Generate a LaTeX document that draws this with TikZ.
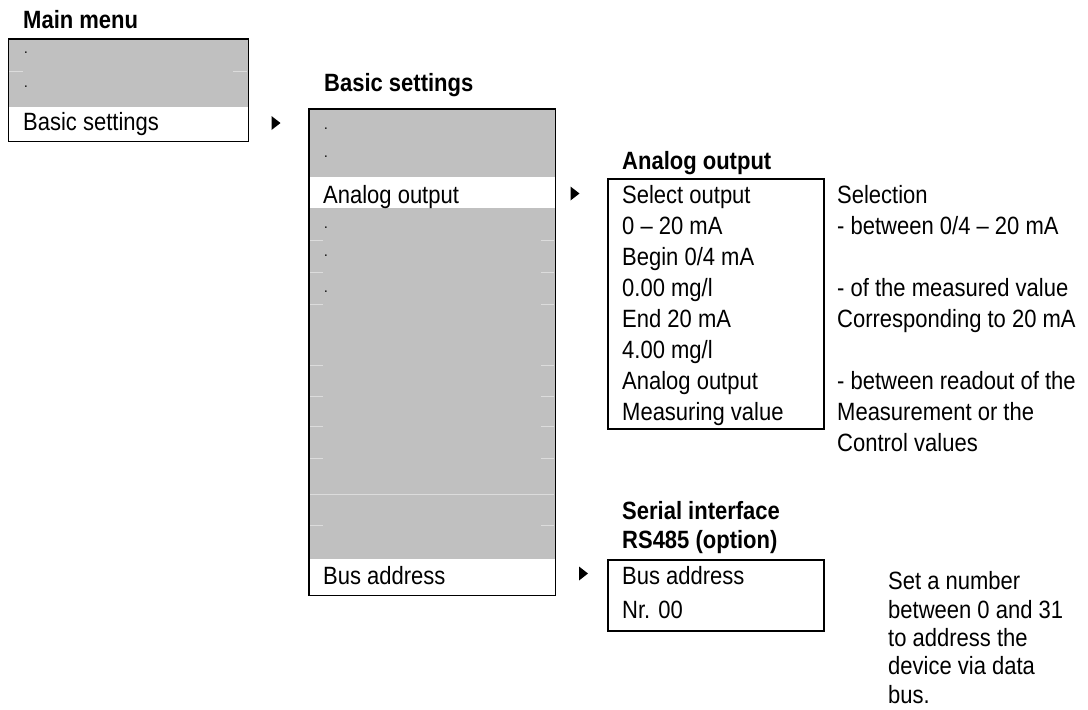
\documentclass[tikz,border=0pt]{standalone}
\usepackage{fontspec}
\setmainfont{Liberation Sans}[FakeStretch=0.88]
\usetikzlibrary{shapes.geometric}
\definecolor{menugray}{HTML}{C0C0C0}
\definecolor{tickgray}{HTML}{DCDCDC}
\tikzset{
  txt/.style={anchor=base west, inner sep=0pt, font=\fontsize{25}{29}\selectfont},
  ttl/.style={txt, font=\fontsize{25}{29}\selectfont\bfseries},
  dotmark/.style={anchor=base west, inner sep=0pt, font=\fontsize{15}{16}\selectfont},
  frame/.style={draw=black, line width=1.8pt, fill=none, inner sep=0pt, anchor=north west},
  grayfill/.style={fill=menugray},
  tick/.style={draw=tickgray, line width=1pt},
  arrowfill/.style={fill=black}
}
\newcommand{\arrowtri}[1]{\fill[arrowfill] (#1) ++(-4.5,-7) -- ++(9,7) -- ++(-9,7) -- cycle;}
\begin{document}
\begin{tikzpicture}[x=1pt,y=-1pt]
\useasboundingbox (0,0) rectangle (1088,710);

% ---------- Main menu ----------
\node[ttl] (mmtitle) at (23,28.5) {Main menu};
\fill[grayfill] (7.5,38) rectangle (247.5,107);
\draw[tick] (8.5,71.7) -- (23,71.7) (233,71.7) -- (246.5,71.7);
\node[dotmark] (mmd1) at (24,53) {.};
\node[dotmark] (mmd2) at (24,87) {.};
\node[txt] (mmbasic) at (23,130) {Basic settings};
\node[frame, minimum width=240pt, minimum height=102.5pt] (mmbox) at (7.5,38) {};
\coordinate (ar1) at (276,123);
\arrowtri{ar1}

% ---------- Basic settings ----------
\node[ttl] (bstitle) at (324,91) {Basic settings};
\fill[grayfill] (308,108.3) rectangle (554.5,594.5);
\fill[white] (308,176.7) rectangle (554.5,208.3);
\fill[white] (308,559) rectangle (554.5,594.5);
\foreach \yy in {240,272.7,304,365,396,426,458,525}{
  \draw[tick] (309,\yy) -- (323,\yy) (541,\yy) -- (553.5,\yy);
}
\draw[tick] (309,494) -- (553.5,494);
\node[dotmark] (bsd1) at (324,129) {.};
\node[dotmark] (bsd2) at (324,157) {.};
\node[txt] (bsanalog) at (323,203) {Analog output};
\node[dotmark] (bsd3) at (324,228) {.};
\node[dotmark] (bsd4) at (324,256) {.};
\node[dotmark] (bsd5) at (324,292) {.};
\node[txt] (bsbus) at (323,584) {Bus address};
\node[frame, minimum width=246.5pt, minimum height=486.2pt] (bsbox) at (308,108.3) {};
\coordinate (ar2) at (575,193.5);
\arrowtri{ar2}
\coordinate (ar3) at (583.5,573.5);
\arrowtri{ar3}

% ---------- Analog output ----------
\node[ttl] (aotitle) at (622,169) {Analog output};
\node[frame, minimum width=216pt, minimum height=250.6pt] (aobox) at (607.3,177.7) {};
\node[txt] (ao1) at (622,203) {Select output};
\node[txt] (ao2) at (622,234) {0 – 20 mA};
\node[txt] (ao3) at (622,265) {Begin 0/4 mA};
\node[txt] (ao4) at (622,296) {0.00 mg/l};
\node[txt] (ao5) at (622,327) {End 20 mA};
\node[txt] (ao6) at (622,358) {4.00 mg/l};
\node[txt] (ao7) at (622,389) {Analog output};
\node[txt] (ao8) at (622,420) {Measuring value};

\node[txt] (ad1) at (837,203) {Selection};
\node[txt] (ad2) at (837,234) {- between 0/4 – 20 mA};
\node[txt] (ad3) at (837,296) {- of the measured value};
\node[txt] (ad4) at (837,327) {Corresponding to 20 mA};
\node[txt] (ad5) at (837,389) {- between readout of the};
\node[txt] (ad6) at (837,420) {Measurement or the};
\node[txt] (ad7) at (837,451) {Control values};

% ---------- Serial interface ----------
\node[ttl] (sititle1) at (622,519.5) {Serial interface};
\node[ttl] (sititle2) at (622,548) {RS485 (option)};
\node[frame, minimum width=216pt, minimum height=70.7pt] (sibox) at (607.3,559.3) {};
\node[txt] (si1) at (622,584.5) {Bus address};
\node[txt] (si2) at (622,618) {Nr. 00};

\node[txt] (sd1) at (888,589) {Set a number};
\node[txt] (sd2) at (888,618) {between 0 and 31};
\node[txt] (sd3) at (888,646) {to address the};
\node[txt] (sd4) at (888,674.5) {device via data};
\node[txt] (sd5) at (888,703) {bus.};
\end{tikzpicture}
\end{document}
